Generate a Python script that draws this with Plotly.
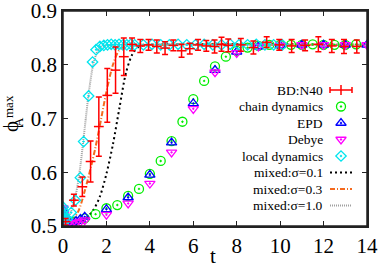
import plotly.graph_objects as go

# ---------------- data ----------------
# BD:N40 (red crosses with error bars)
bd_t = [0.12, 0.5, 0.89, 1.27, 1.65, 2.04, 2.42, 2.8, 3.18, 3.56, 3.94, 4.32, 4.7, 5.08,
        5.46, 5.84, 6.22, 6.6, 6.98, 7.3, 7.61, 8.19, 8.77, 9.38, 9.96, 10.53, 11.15,
        11.76, 12.38, 12.94, 13.53]
bd_phi = [0.508, 0.548, 0.573, 0.620, 0.685, 0.743, 0.790, 0.815, 0.838, 0.835, 0.837,
          0.834, 0.831, 0.836, 0.826, 0.830, 0.837, 0.835, 0.834, 0.838, 0.836, 0.837,
          0.832, 0.842, 0.837, 0.835, 0.836, 0.838, 0.835, 0.834, 0.834]
bd_err = [0.006, 0.011, 0.018, 0.038, 0.055, 0.050, 0.043, 0.035, 0.012, 0.012, 0.010,
          0.012, 0.012, 0.010, 0.012, 0.010, 0.010, 0.010, 0.012, 0.013, 0.012, 0.012,
          0.012, 0.010, 0.010, 0.012, 0.010, 0.014, 0.012, 0.013, 0.012]

# chain dynamics (green circles)
chain_t = [0.5, 1.0, 1.5, 2.0, 2.5, 3.0, 3.5, 4.0, 4.5, 5.0, 5.5, 6.0, 6.5, 7.0, 7.5, 8.0,
           8.5, 9.0, 9.5, 10.0, 10.5, 11.0, 11.5, 12.0, 12.5, 13.0, 13.5]
chain_phi = [0.508, 0.514, 0.522, 0.533, 0.539, 0.556, 0.569, 0.597, 0.621, 0.658, 0.694,
             0.736, 0.770, 0.797, 0.815, 0.826, 0.832, 0.835, 0.837, 0.837, 0.837, 0.837,
             0.838, 0.837, 0.837, 0.837, 0.838]

# EPD (blue triangles up)
epd_t = [0.0, 0.03, 0.06, 0.1, 0.2, 0.4, 0.6, 0.8, 1.0, 2, 3, 4, 5, 6, 7, 8, 9, 10, 11,
         12, 13, 14]
epd_phi = [0.530, 0.520, 0.512, 0.507, 0.505, 0.506, 0.509, 0.513, 0.517, 0.531, 0.553,
           0.595, 0.655, 0.728, 0.790, 0.824, 0.834, 0.836, 0.837, 0.837, 0.837, 0.837]

# Debye (magenta triangles down)
debye_t = [0.0, 0.03, 0.06, 0.1, 0.2, 0.4, 0.6, 0.8, 1.0, 2, 3, 4, 5, 6, 7, 8, 9, 10, 11,
           12, 13, 14]
debye_phi = [0.533, 0.522, 0.513, 0.507, 0.503, 0.504, 0.506, 0.508, 0.511, 0.521, 0.542,
             0.579, 0.637, 0.718, 0.786, 0.822, 0.834, 0.836, 0.837, 0.837, 0.837, 0.837]

# local dynamics (cyan diamonds)
local_t = [0.0, 0.02, 0.04, 0.06, 0.08, 0.2, 0.38, 0.57, 0.8, 0.95, 1.18, 1.36, 1.52,
           1.7, 1.88, 2.05, 2.22, 2.4, 2.58, 2.76, 2.94, 3.12, 3.3, 3.7, 4.1, 4.5, 4.9,
           5.3, 5.7, 6.1, 6.5, 6.9, 7.3, 7.7, 8.1, 8.5, 8.9, 9.3, 9.7, 10.1]
local_phi = [0.535, 0.528, 0.521, 0.515, 0.510, 0.513, 0.525, 0.548, 0.590, 0.657, 0.742,
             0.805, 0.828, 0.834, 0.836, 0.837, 0.838, 0.837, 0.838, 0.837, 0.837, 0.838,
             0.837, 0.837, 0.838, 0.837, 0.837, 0.838, 0.837, 0.837, 0.838, 0.837, 0.837,
             0.838, 0.837, 0.837, 0.838, 0.837, 0.837, 0.837]

# mixed models (lines)
mix01_t = [0.0, 0.5, 1.0, 1.4, 1.7, 2.0, 2.3, 2.6, 2.9, 3.2, 3.5, 4.0, 14.0]
mix01_phi = [0.501, 0.503, 0.512, 0.530, 0.555, 0.597, 0.652, 0.720, 0.785, 0.820, 0.834,
             0.837, 0.837]
mix03_t = [0.0, 0.3, 0.7, 1.0, 1.3, 1.5, 1.75, 2.0, 2.3, 2.6, 3.0, 3.5, 14.0]
mix03_phi = [0.502, 0.505, 0.527, 0.565, 0.612, 0.647, 0.698, 0.750, 0.800, 0.828, 0.836,
             0.837, 0.837]
mix10_t = [0.0, 0.2, 0.4, 0.6, 0.8, 1.0, 1.2, 1.4, 1.6, 1.8, 2.0, 2.5, 14.0]
mix10_phi = [0.503, 0.512, 0.530, 0.560, 0.612, 0.682, 0.752, 0.802, 0.826, 0.834, 0.836,
             0.837, 0.837]

legend_labels = ["BD:N40", "chain dynamics", "EPD", "Debye", "local dynamics",
                 "mixed:σ=0.1", "mixed:σ=0.3", "mixed:σ=1.0"]
x_ticks = [0, 2, 4, 6, 8, 10, 12, 14]
y_ticks = [0.5, 0.6, 0.7, 0.8, 0.9]
y_tick_text = ["0.5", "0.6", "0.7", "0.8", "0.9"]

# ---------------- styles ----------------
FONT = "Liberation Serif"
TICK_FONT = "Times New Roman"
RED = "#ff0000"
GREEN = "#00ee00"
BLUE = "#0000ff"
MAGENTA = "#ff00ff"
CYAN = "#00e5ee"
BLACK = "#000000"
ORANGE = "#f46a1f"
GRAY = "#a0a0a0"
FRAME = "#222222"

W, H = 382, 267
L, R, T, B = 63, 15, 11, 41
PW, PH = W - L - R, H - T - B
X0, X1, Y0, Y1 = 0, 14, 0.5, 0.9

def dx(xp):  # pixel -> data (legend placement only)
    return X0 + (xp - L) / PW * (X1 - X0)

def dy(yp):
    return Y1 - (yp - T) / PH * (Y1 - Y0)

def px(xp):  # pixel -> paper
    return (xp - L) / PW

def py(yp):
    return (H - B - yp) / PH

fig = go.Figure()

line_styles = [
    (mix01_t, mix01_phi, dict(color=BLACK, width=2, dash="2px,3px")),
    (mix03_t, mix03_phi, dict(color=ORANGE, width=2, dash="5px,2px,1px,2px")),
    (mix10_t, mix10_phi, dict(color=GRAY, width=2, dash="1px,1px")),
]
for tx, ty, ln in line_styles:
    fig.add_trace(go.Scatter(x=tx, y=ty, mode="lines",
                             line=dict(shape="spline", smoothing=0.8, **ln), showlegend=False))

fig.add_trace(go.Scatter(x=chain_t, y=chain_phi, mode="markers", showlegend=False,
                         marker=dict(symbol="circle-open-dot", size=9, color=GREEN,
                                     line=dict(width=1.3, color=GREEN))))
fig.add_trace(go.Scatter(x=epd_t, y=epd_phi, mode="markers", showlegend=False,
                         marker=dict(symbol="triangle-up-open-dot", size=9, color=BLUE,
                                     line=dict(width=1.3, color=BLUE))))
fig.add_trace(go.Scatter(x=debye_t, y=debye_phi, mode="markers", showlegend=False,
                         marker=dict(symbol="triangle-down-open-dot", size=9, color=MAGENTA,
                                     line=dict(width=1.3, color=MAGENTA))))
fig.add_trace(go.Scatter(x=local_t, y=local_phi, mode="markers", showlegend=False,
                         marker=dict(symbol="diamond-open-dot", size=8, color=CYAN,
                                     line=dict(width=1.3, color=CYAN))))
fig.add_trace(go.Scatter(x=bd_t, y=bd_phi, mode="markers", showlegend=False,
                         error_y=dict(type="data", array=bd_err, color=RED, thickness=1.5, width=3),
                         marker=dict(symbol="line-ew-open", size=7, color=RED,
                                     line=dict(width=1.5, color=RED))))

# ---------------- custom legend ----------------
row_y = [90, 106.5, 123, 139.5, 156, 172.5, 189, 205.5]
sx0, sx1, sxc = 330, 352, 341
fig.add_trace(go.Scatter(x=[dx(sxc)], y=[dy(row_y[0])], mode="markers", showlegend=False,
                         error_x=dict(type="constant", value=dx(sxc + 11) - dx(sxc), color=RED,
                                      thickness=1.5, width=3),
                         marker=dict(symbol="line-ns-open", size=7, color=RED,
                                     line=dict(width=1.5, color=RED))))
sym_rows = [("circle-open-dot", GREEN, 9), ("triangle-up-open-dot", BLUE, 9),
            ("triangle-down-open-dot", MAGENTA, 9), ("diamond-open-dot", CYAN, 8)]
for i, (sym, col, sz) in enumerate(sym_rows):
    fig.add_trace(go.Scatter(x=[dx(sxc)], y=[dy(row_y[i + 1])], mode="markers", showlegend=False,
                             marker=dict(symbol=sym, size=sz, color=col,
                                         line=dict(width=1.3, color=col))))
for i, (_, _, ln) in enumerate(line_styles):
    fig.add_trace(go.Scatter(x=[dx(sx0), dx(sx1)], y=[dy(row_y[5 + i])] * 2,
                             mode="lines", showlegend=False, line=ln))

annotations = []
for lab, yy in zip(legend_labels, row_y):
    annotations.append(dict(x=px(325), y=py(yy), xref="paper", yref="paper", text=lab,
                            showarrow=False, xanchor="right", yanchor="middle",
                            font=dict(family=FONT, size=13.5, color=BLACK)))

# axis titles
annotations.append(dict(x=px(213), y=py(256), xref="paper", yref="paper", text="t",
                        showarrow=False, xanchor="center", yanchor="middle",
                        font=dict(family=FONT, size=21, color=BLACK)))
annotations.append(dict(x=px(10.5), y=py(126.5), xref="paper", yref="paper", text="ϕ",
                        showarrow=False, xanchor="center", yanchor="middle", textangle=-90,
                        font=dict(family=FONT, size=21, color=BLACK)))
annotations.append(dict(x=px(18), y=py(122), xref="paper", yref="paper", text="A",
                        showarrow=False, xanchor="center", yanchor="middle", textangle=-90,
                        font=dict(family=FONT, size=13, color=BLACK)))
annotations.append(dict(x=px(8), y=py(107), xref="paper", yref="paper", text="max",
                        showarrow=False, xanchor="center", yanchor="middle", textangle=-90,
                        font=dict(family=FONT, size=13, color=BLACK)))

axis_common = dict(showline=True, linecolor=FRAME, linewidth=1.5, mirror="allticks",
                   ticks="inside", ticklen=5, tickwidth=1.2, tickcolor=FRAME,
                   showgrid=False, zeroline=False, automargin=False,
                   ticklabeloverflow="allow",
                   tickfont=dict(family=TICK_FONT, size=21, color=BLACK))

fig.update_layout(
    width=W, height=H,
    margin=dict(l=L, r=R, t=T, b=B, pad=0),
    paper_bgcolor="white", plot_bgcolor="white",
    showlegend=False,
    font=dict(family=FONT),
    xaxis=dict(range=[X0, X1], tickvals=x_ticks, **axis_common),
    yaxis=dict(range=[Y0, Y1], tickvals=y_ticks, ticktext=y_tick_text, **axis_common),
    annotations=annotations,
    shapes=[dict(type="rect", xref="paper", yref="paper", x0=0, y0=0, x1=1, y1=1,
                 line=dict(color=FRAME, width=1.5), layer="above")],
)

fig.write_html("out.html", config={"displayModeBar": False},
               post_script="document.body.style.margin='0px';document.body.style.padding='0px';")
